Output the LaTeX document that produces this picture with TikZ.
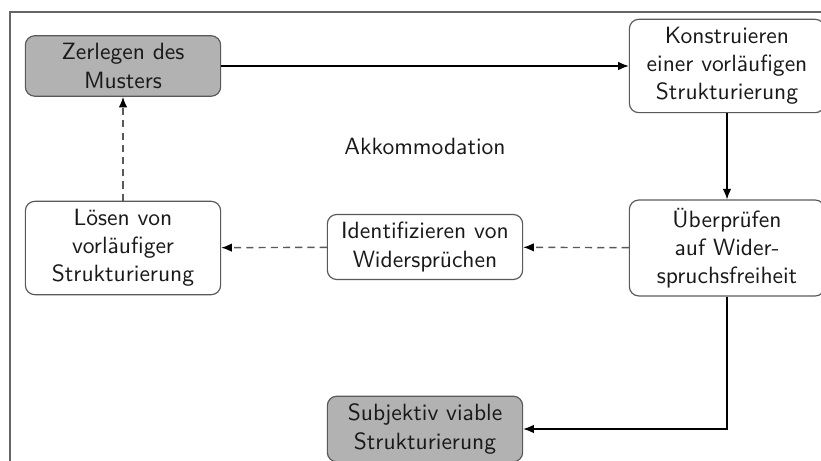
\documentclass[tikz,border=0pt]{standalone}
\usetikzlibrary{arrows.meta}
\begin{document}
\begin{tikzpicture}[x=0.425pt,y=-0.425pt,
  font=\sffamily,
  box/.style={draw=black!65, rounded corners=4pt, align=center, minimum width=83pt, text=black!90, line width=0.5pt},
  filled/.style={box, fill=black!30},
  solidarrow/.style={draw=black, line width=0.5pt, -{Latex[length=4.5pt,width=3.6pt]}},
  dasharrow/.style={draw=black!65, line width=0.6pt, dash pattern=on 3pt off 2.2pt, -{Latex[length=4.5pt,width=3.6pt,color=black]}}
]
\useasboundingbox (0,0) rectangle (821,461);
\draw[black!60, line width=0.8pt] (10,470) -- (10,12) -- (830,12);

\node[filled] (zer) at (123,66) {Zerlegen des\\Musters};
\node[box] (kon) at (727,66) {Konstruieren\\einer vorläufigen\\Strukturierung};
\node[box] (ueb) at (727,248) {Überprüfen\\auf Wider-\\spruchsfreiheit};
\node[box] (ide) at (425,247) {Identifizieren von\\Widersprüchen};
\node[box] (loe) at (123,248) {Lösen von\\vorläufiger\\Strukturierung};
\node[filled] (sub) at (425,429) {Subjektiv viable\\Strukturierung};
\node[text=black!90] (akk) at (425,146) {Akkommodation};

\draw[solidarrow] (zer) -- (kon);
\draw[solidarrow] (kon) -- (ueb);
\draw[solidarrow] (ueb.south) |- (sub.east);
\draw[dasharrow] (ueb) -- (ide);
\draw[dasharrow] (ide) -- (loe);
\draw[dasharrow] (loe) -- (zer);
\end{tikzpicture}
\end{document}
